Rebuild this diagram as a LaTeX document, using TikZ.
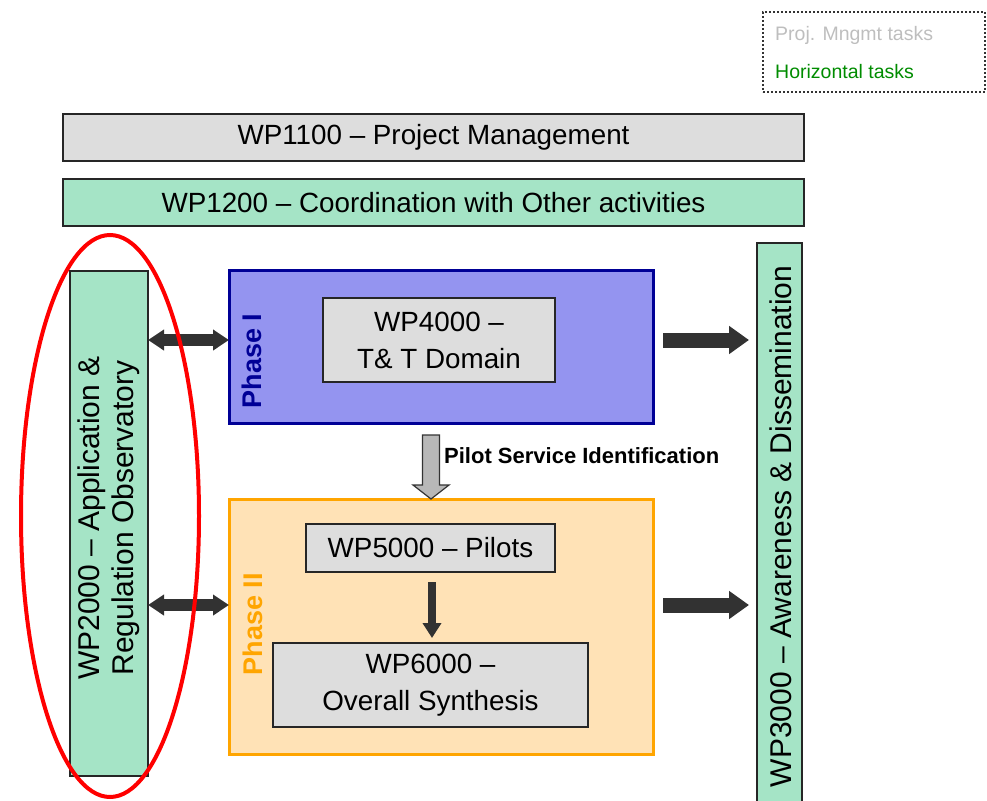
\documentclass[tikz,border=0pt]{standalone}
\usepackage{fontspec}
\setmainfont{Liberation Sans}
\usetikzlibrary{arrows.meta,calc}
\definecolor{mint}{RGB}{165,228,198}
\definecolor{boxgrey}{RGB}{221,221,221}
\definecolor{lav}{RGB}{148,148,240}
\definecolor{navy}{RGB}{0,0,150}
\definecolor{peach}{RGB}{255,226,182}
\definecolor{orng}{RGB}{255,165,0}
\definecolor{darkarr}{RGB}{50,50,50}
\definecolor{legendgrey}{RGB}{190,190,190}
\definecolor{legendgreen}{RGB}{0,140,0}
\begin{document}
\begin{tikzpicture}[x=1pt,y=-1pt,
  base/.style={rectangle,inner sep=0pt,outer sep=0pt,align=center},
  greybox/.style={base,draw=black!85,line width=1.5pt,fill=boxgrey},
  mintbox/.style={base,draw=black!85,line width=1.5pt,fill=mint},
  bigtext/.style={font=\fontsize{27.8}{37}\selectfont},
  vtext/.style={rotate=90,align=center,font=\fontsize{30}{34}\selectfont},
  phasetext/.style={rotate=90,font=\fontsize{27}{30}\selectfont\bfseries},
  dbl/.style={draw=darkarr,line width=12pt,{Triangle[length=16pt,width=20pt]}-{Triangle[length=16pt,width=20pt]}},
  rarr/.style={draw=darkarr,line width=15pt,-{Triangle[length=20pt,width=27pt]}},
  darr/.style={draw=darkarr,line width=8pt,-{Triangle[length=15pt,width=18pt]}},
  pilotarr/.style={draw=black!80,line width=1.2pt,fill=black!28,line join=miter}
]
\useasboundingbox (0,0) rectangle (987,800);

% legend
\node[base,draw=black!80,line width=2pt,dotted,minimum width=222pt,minimum height=80pt] (legend) at (874,52) {};
\node[anchor=west,inner sep=0pt,text=legendgrey,font=\fontsize{19.5}{22}\selectfont] (lg1) at (775,35) {Proj. Mngmt tasks};
\node[anchor=west,inner sep=0pt,text=legendgreen,font=\fontsize{19.5}{22}\selectfont] (lg2) at (775,72) {Horizontal tasks};

% top bars
\node[greybox,bigtext,minimum width=741pt,minimum height=47pt] (wp1100) at (433.5,137.5) {WP1100 – Project Management};
\node[mintbox,bigtext,minimum width=741pt,minimum height=47pt] (wp1200) at (433.5,202.5) {WP1200 – Coordination with Other activities};

% WP2000
\node[mintbox,minimum width=78pt,minimum height=505pt] (wp2000) at (109,523.5) {};
\node[vtext] (wp2000t) at (109,518) {WP2000 – Application \&\\Regulation Observatory};

% WP3000
\node[mintbox,minimum width=45pt,minimum height=567pt] (wp3000) at (779.5,526.5) {};
\node[vtext] (wp3000t) at (781,526.5) {WP3000 – Awareness \& Dissemination};

% Phase I
\node[base,draw=navy,line width=3pt,fill=lav,minimum width=424pt,minimum height=153pt] (ph1) at (441,346.5) {};
\node[phasetext,text=navy] (ph1t) at (252,361) {Phase I};
\node[greybox,bigtext,minimum width=232pt,minimum height=84pt] (wp4000) at (439,340) {WP4000 –\\T\& T Domain};

% Phase II
\node[base,draw=orng,line width=3pt,fill=peach,minimum width=424pt,minimum height=255pt] (ph2) at (441,626.5) {};
\node[phasetext,text=orng] (ph2t) at (253,624) {Phase II};
\node[greybox,bigtext,minimum width=249pt,minimum height=48pt] (wp5000) at (430.5,548) {WP5000 – Pilots};
\node[greybox,bigtext,minimum width=315pt,minimum height=84pt] (wp6000) at (430.5,685) {WP6000 –\\Overall Synthesis};

% row coordinates
\coordinate (r1) at (0,340);
\coordinate (r2) at (0,605);

% double arrows
\draw[dbl] (wp2000.east |- r1) -- (ph1.west |- r1);
\draw[dbl] (wp2000.east |- r2) -- (ph2.west |- r2);

% right arrows
\draw[rarr,shorten <=10pt,shorten >=8pt] (ph1.east |- r1) -- (wp3000.west |- r1);
\draw[rarr,shorten <=10pt,shorten >=8pt] (ph2.east |- r2) -- (wp3000.west |- r2);

% WP5000 -> WP6000
\draw[darr,shorten <=10pt,shorten >=5pt] ([xshift=1.5pt]wp5000.south) -- ([xshift=1.5pt]wp5000.south |- wp6000.north);

% pilot arrow
\coordinate (pa) at ($(ph1.south)+(-10,12)$);
\coordinate (pb) at ($(ph2.north)+(-10,0)$);
\draw[pilotarr] ([shift={(-8.5,0)}]pa) -- ([shift={(-8.5,-14)}]pb) -- ([shift={(-18,-14)}]pb) -- (pb)
  -- ([shift={(18,-14)}]pb) -- ([shift={(8.5,-14)}]pb) -- ([shift={(8.5,0)}]pa) -- cycle;
\node[anchor=west,inner sep=0pt,font=\fontsize{22}{26}\selectfont\bfseries] (pilott) at (444,456) {Pilot Service Identification};

% red ellipse
\draw[red,line width=4pt] (110,516) ellipse [x radius=89, y radius=281];
\end{tikzpicture}
\end{document}
